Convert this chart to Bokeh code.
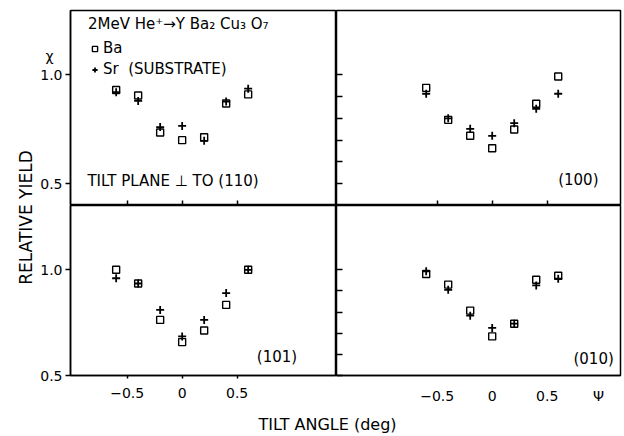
import math
from bokeh.plotting import figure
from bokeh.layouts import row, column
from bokeh.models import Range1d, FixedTicker, LinearAxis, Label, Legend, LegendItem
from bokeh.embed import file_html
from bokeh.resources import INLINE

# ---------------- data ----------------
tilt = [-0.6, -0.4, -0.2, 0.0, 0.2, 0.4, 0.6]

ba_110 = [0.93, 0.905, 0.735, 0.70, 0.713, 0.868, 0.91]
sr_110 = [0.92, 0.88, 0.76, 0.765, 0.697, 0.877, 0.936]

ba_100 = [0.94, 0.793, 0.72, 0.663, 0.749, 0.867, 0.992]
sr_100 = [0.913, 0.80, 0.752, 0.72, 0.778, 0.844, 0.913]

ba_101 = [1.0, 0.935, 0.763, 0.658, 0.713, 0.834, 1.0]
sr_101 = [0.96, 0.935, 0.81, 0.685, 0.763, 0.89, 1.0]

ba_010 = [0.98, 0.93, 0.807, 0.685, 0.745, 0.953, 0.972]
sr_010 = [0.993, 0.905, 0.783, 0.725, 0.745, 0.926, 0.958]

x_ticks = [-0.5, 0.0, 0.5]
x_tick_labels = ["\u22120.5", "0", "0.5"]
y_ticks = [0.5, 1.0]
y_tick_labels = ["0.5", "1.0"]
y_minor_ticks = [0.5, 0.6, 0.7, 0.8, 0.9, 1.0]

panel_names = ["TILT PLANE \u22a5 TO (110)", "(100)", "(101)", "(010)"]
title_text = "2MeV He\u207a\u2192Y Ba\u2082 Cu\u2083 O\u2087"
legend_labels = ["Ba", "Sr  (SUBSTRATE)"]
x_title = "TILT ANGLE (deg)"
y_title = "RELATIVE YIELD"
y_symbol = "\u03c7"      # chi, written above the 1.0 of the upper scale
x_symbol = "\u03a8"      # psi, written at the end of the lower right scale
x_symbol_at = 0.966

FONT = "DejaVu Sans"

# ---------------- helpers ----------------
def panel(xr, yr, w, h, ml, mr, mt, mb):
    p = figure(width=w, height=h, x_range=Range1d(*xr), y_range=Range1d(*yr),
               output_backend="svg", toolbar_location=None,
               x_axis_location=None, y_axis_location=None,
               min_border_left=ml, min_border_right=mr,
               min_border_top=mt, min_border_bottom=mb)
    p.xgrid.visible = False
    p.ygrid.visible = False
    p.outline_line_color = "black"
    p.outline_line_width = 1.5
    p.background_fill_color = "white"
    p.border_fill_color = "white"
    return p


def add_axis(p, side, ticks, labels=None, tin=0, tout=0, standoff=3):
    ax = LinearAxis(ticker=FixedTicker(ticks=ticks))
    ax.axis_line_color = "black"
    ax.axis_line_width = 1.5
    ax.major_tick_line_color = "black"
    ax.major_tick_line_width = 1.5
    ax.major_tick_in = tin
    ax.major_tick_out = tout
    ax.minor_tick_line_color = None
    if labels is None:
        ax.axis_line_color = None
        ax.major_label_overrides = {t: "" for t in ticks}
        ax.major_label_text_font_size = "0px"
        ax.major_label_text_color = None
        ax.major_label_standoff = 0
    else:
        ax.major_label_overrides = {t: l for t, l in zip(ticks, labels)}
        ax.major_label_text_font = FONT
        ax.major_label_text_font_size = "14px"
        ax.major_label_text_color = "black"
        ax.major_label_standoff = standoff
    p.add_layout(ax, side)
    return ax


def draw(p, ba, sr):
    sq = p.scatter(tilt, ba, marker="square", size=7, fill_color=None,
                   line_color="black", line_width=1.4)
    cr = p.scatter(tilt, sr, marker="cross", size=8, line_color="black",
                   line_width=1.8)
    return sq, cr


def text(p, x, y, s, align="left", size="15px"):
    lbl = Label(x=x, y=y, text=s, text_font=FONT, text_font_size=size,
                text_color="black", text_align=align, text_baseline="middle")
    p.add_layout(lbl)
    return lbl

# ---------------- geometry ----------------
XR_L = (-1.015, 1.403)
XR_R = (-1.415, 1.166)
YR_T = (0.40, 1.295)
YR_B = (0.50, 1.304)

p1 = panel(XR_L, YR_T, 300, 205, 34, 0, 10, 0)
p2 = panel(XR_R, YR_T, 286, 205, 0, 2, 10, 0)
p3 = panel(XR_L, YR_B, 300, 201, 34, 0, 0, 31)
p4 = panel(XR_R, YR_B, 286, 201, 0, 2, 0, 31)

# upper scale carries the chi symbol above its 1.0
top_y_labels = [y_tick_labels[0],
                y_symbol + "\u00a0\u00a0\n" + y_tick_labels[1] + "\n"]
add_axis(p1, "left", y_ticks, top_y_labels, tout=5, standoff=3)
add_axis(p1, "below", x_ticks, None, tin=5)
add_axis(p2, "left", y_minor_ticks, None, tin=6)
add_axis(p2, "below", x_ticks, None, tin=5)
add_axis(p3, "left", y_ticks, y_tick_labels, tout=5, standoff=3)
add_axis(p3, "below", x_ticks, x_tick_labels, tout=3, standoff=9)
add_axis(p4, "left", y_minor_ticks, None, tin=6)
add_axis(p4, "below", x_ticks + [x_symbol_at], x_tick_labels + [x_symbol],
         tout=0, standoff=12)

sq1, cr1 = draw(p1, ba_110, sr_110)
draw(p2, ba_100, sr_100)
draw(p3, ba_101, sr_101)
draw(p4, ba_010, sr_010)

legend = Legend(items=[LegendItem(label=legend_labels[0], renderers=[sq1]),
                       LegendItem(label=legend_labels[1], renderers=[cr1])],
                title=title_text, location=(18, 127),
                border_line_color=None, background_fill_alpha=0,
                padding=0, margin=0, spacing=3,
                glyph_width=13, glyph_height=13, label_height=18,
                label_standoff=2,
                label_text_font=FONT, label_text_font_size="15px",
                label_text_color="black",
                title_text_font=FONT, title_text_font_size="15px",
                title_text_color="black",
                title_text_font_style="normal", title_standoff=6)
p1.add_layout(legend)

text(p1, -0.861, 0.512, panel_names[0])
text(p2, 0.966, 0.515, panel_names[1], "right")
text(p3, 1.045, 0.587, panel_names[2], "right")
text(p4, 1.105, 0.579, panel_names[3], "right")

# y axis title spanning both rows
lab = figure(width=36, height=406, x_range=Range1d(0, 1), y_range=Range1d(0, 1),
             output_backend="svg", toolbar_location=None,
             x_axis_location=None, y_axis_location=None,
             min_border_left=0, min_border_right=0, min_border_top=0, min_border_bottom=0)
lab.xgrid.visible = False
lab.ygrid.visible = False
lab.outline_line_color = None
lab.add_layout(Label(x=0.70, y=0.4655, text=y_title, angle=math.pi / 2,
                     text_font=FONT, text_font_size="17px", text_color="black",
                     text_align="center", text_baseline="middle"))

# x axis title strip
strip = figure(width=622, height=28, x_range=Range1d(0, 622), y_range=Range1d(0, 28),
               output_backend="svg", toolbar_location=None,
               x_axis_location=None, y_axis_location=None,
               min_border_left=0, min_border_right=0, min_border_top=0, min_border_bottom=0)
strip.xgrid.visible = False
strip.ygrid.visible = False
strip.outline_line_color = None
strip.add_layout(Label(x=327, y=10, text=x_title, text_font=FONT,
                       text_font_size="16px", text_color="black",
                       text_align="center", text_baseline="middle"))

layout = column(row(lab, column(row(p1, p2), row(p3, p4))), strip)

open("out.html", "w").write(file_html(layout, INLINE))
